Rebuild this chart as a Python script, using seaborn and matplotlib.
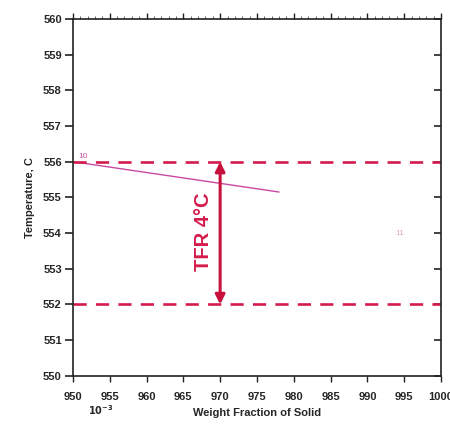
import matplotlib
matplotlib.use("Agg")
import matplotlib.pyplot as plt
import seaborn as sns
import pandas as pd
import numpy as np

# data
curve_x = [950.0, 978.0]
curve_y = [556.0, 555.15]
upper_x = [950.0, 1000.0]
upper_y = [556.0, 556.0]
lower_x = [950.0, 1000.0]
lower_y = [552.0, 552.0]
arrow_x = 970.0
arrow_lo, arrow_hi = 552.0, 556.0
tfr_text = "TFR 4°C"
xticks = [950, 955, 960, 965, 970, 975, 980, 985, 990, 995, 1000]
yticks = [550, 551, 552, 553, 554, 555, 556, 557, 558, 559, 560]

sns.set_theme(style="white")
plt.rcParams['font.family'] = ['Liberation Sans', 'DejaVu Sans']

fig = plt.figure(figsize=(4.5, 4.3), dpi=100)
ax = fig.add_axes([0.162, 0.126, 0.818, 0.830])

crimson = "#d41c4c"
pink = "#c84aa0"

sns.lineplot(x=curve_x, y=curve_y, ax=ax, color=pink, lw=1.0)
sns.lineplot(x=upper_x, y=upper_y, ax=ax, color=crimson, lw=1.9)
sns.lineplot(x=lower_x, y=lower_y, ax=ax, color=crimson, lw=1.9)
for l in ax.lines[1:]:
    l.set_linestyle((0, (5, 3.5)))

ax.annotate("", xy=(arrow_x, arrow_hi), xytext=(arrow_x, arrow_lo),
            arrowprops=dict(arrowstyle="<|-|>", color="#c8103c", lw=2.2,
                            mutation_scale=14, shrinkA=0, shrinkB=0))
ax.text(arrow_x - 2.3, (arrow_lo + arrow_hi) / 2 + 0.05, tfr_text, rotation=90,
        color=crimson, fontsize=14.5, fontweight="bold", ha="center", va="center")
ax.text(950.7, 556.05, "10", color=pink, fontsize=6, ha="left", va="bottom")
ax.text(993.8, 554.0, "11", color=pink, fontsize=6, alpha=0.5, ha="left", va="center")

ax.set_xlim(950, 1000)
ax.set_ylim(550, 560)
ax.set_xticks(xticks)
ax.set_xticklabels([str(v) for v in xticks], fontsize=8, fontweight="bold")
ax.set_yticks(yticks)
ax.set_yticklabels([str(v) for v in yticks], fontsize=8, fontweight="bold")
ax.set_xlabel("Weight Fraction of Solid", fontsize=8, fontweight="bold", labelpad=4)
ax.set_ylabel("Temperature, C", fontsize=8, fontweight="bold", labelpad=6)
ax.text(0.04, -0.095, r"$\mathbf{10^{-3}}$", transform=ax.transAxes, fontsize=7, ha="left", va="center")

for s in ax.spines.values():
    s.set_color("#222222")
    s.set_linewidth(1.2)
    s.set_visible(True)

ax.tick_params(axis="y", which="major", left=True, right=False, direction="out", length=6, width=1.2, color="#222222", pad=2)
ax.tick_params(axis="x", which="major", bottom=True, top=True, direction="out", length=4, width=1.0, color="#222222", pad=8)
ax.set_xticks(np.arange(950, 1001, 1), minor=True)
ax.tick_params(axis="x", which="minor", bottom=False, top=True, direction="out", length=2, width=0.6, color="#444444")

sec = ax.secondary_yaxis("right")
sec.set_yticks(yticks)
sec.set_yticklabels([])
sec.tick_params(axis="y", direction="in", length=5, width=1.2, color="#222222")
sec.spines["right"].set_visible(False)

fig.savefig("out.png", dpi=100)
